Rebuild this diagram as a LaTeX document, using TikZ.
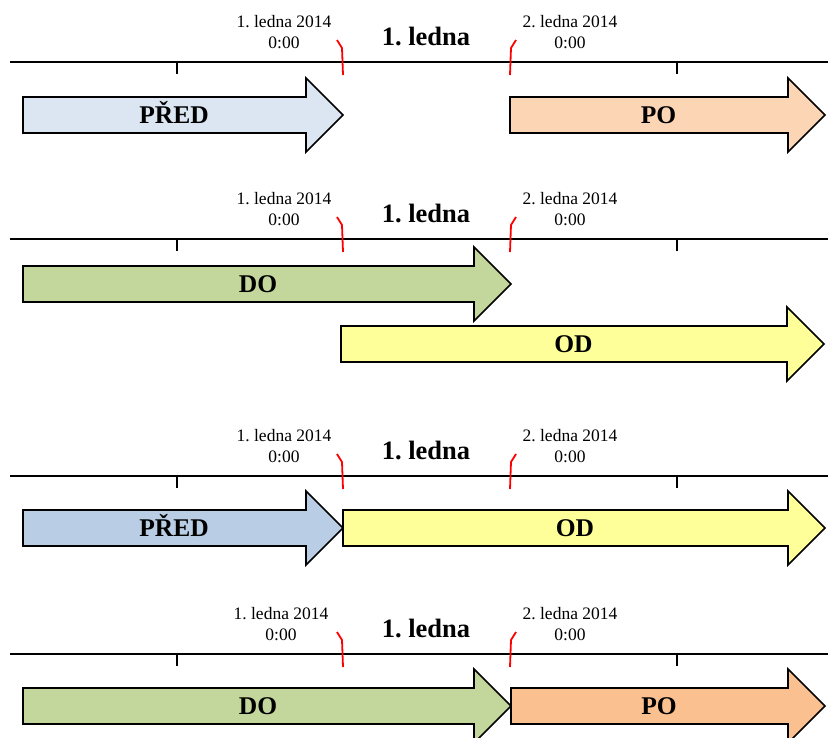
\documentclass[tikz,border=0pt]{standalone}
\usepackage{fontspec}
\setmainfont{Liberation Serif}
\frenchspacing

\definecolor{beforeblue}{HTML}{DCE6F2}
\definecolor{beforeblueB}{HTML}{B9CDE5}
\definecolor{afterorange}{HTML}{FCD5B5}
\definecolor{afterorangeB}{HTML}{FAC090}
\definecolor{untilgreen}{HTML}{C3D69B}
\definecolor{fromyellow}{HTML}{FFFF99}

% one time axis: #1 name prefix, #2 axis y, #3 x of the left date label
\newcommand{\dayaxis}[3]{%
  \draw[axisline] (10,#2) -- (828,#2);
  \draw[tickmark] (177,#2) -- (177,#2+12);
  \draw[tickmark] (677,#2) -- (677,#2+12);
  \draw[cutmark] (337,#2-22) -- (342,#2-14) -- (343,#2+13);
  \draw[cutmark] (516,#2-22) -- (511,#2-14) -- (510,#2+13);
  \node[datelbl] (#1startdate) at (#3,#2-40) {1. ledna 2014};
  \node[datelbl] (#1starttime) at (#3,#2-19) {0:00};
  \node[datelbl] (#1enddate) at (570,#2-40) {2. ledna 2014};
  \node[datelbl] (#1endtime) at (570,#2-19) {0:00};
  \node[daylbl] (#1day) at (426,#2-17) {1. ledna};
}

% block arrow: #1 name, #2 left x, #3 tip x, #4 centre y, #5 fill, #6 text
\newcommand{\spanarrow}[6]{%
  \draw[arrowbox,fill=#5] (#2,#4-18) -- (#3-37,#4-18) -- (#3-37,#4-37)
    -- (#3,#4) -- (#3-37,#4+37) -- (#3-37,#4+18) -- (#2,#4+18) -- cycle;
  \node[spanlbl] (#1) at ({(#2+#3-18)/2},#4+8.5) {#6};
}

\begin{document}
\begin{tikzpicture}[x=1pt,y=-1pt,
  axisline/.style={line width=2pt,black},
  tickmark/.style={line width=2pt,black},
  cutmark/.style={line width=1.8pt,red,line join=round},
  arrowbox/.style={draw=black,line width=1.6pt,line join=miter},
  datelbl/.style={font=\fontsize{17.5}{17.5}\selectfont,inner sep=0pt},
  daylbl/.style={font=\fontsize{26.5}{26.5}\selectfont\bfseries,inner sep=0pt,anchor=base},
  spanlbl/.style={font=\fontsize{25.5}{25.5}\selectfont\bfseries,inner sep=0pt,anchor=base}]
\useasboundingbox (0,0) rectangle (828,737);
\clip (0,0) rectangle (828,737);

% before / after
\dayaxis{a}{62}{284}
\spanarrow{abefore}{23}{343}{115}{beforeblue}{PŘED}
\spanarrow{aafter}{510}{825}{115}{afterorange}{PO}

% until / from
\dayaxis{b}{239}{284}
\spanarrow{buntil}{23}{511}{284}{untilgreen}{DO}
\spanarrow{bfrom}{341}{824}{344}{fromyellow}{OD}

% before / from
\dayaxis{c}{476}{284}
\spanarrow{cbefore}{23}{343}{528}{beforeblueB}{PŘED}
\spanarrow{cfrom}{343}{825}{528}{fromyellow}{OD}

% until / after
\dayaxis{d}{654}{281}
\spanarrow{duntil}{23}{511}{706}{untilgreen}{DO}
\spanarrow{dafter}{511}{825}{706}{afterorangeB}{PO}
\end{tikzpicture}
\end{document}
